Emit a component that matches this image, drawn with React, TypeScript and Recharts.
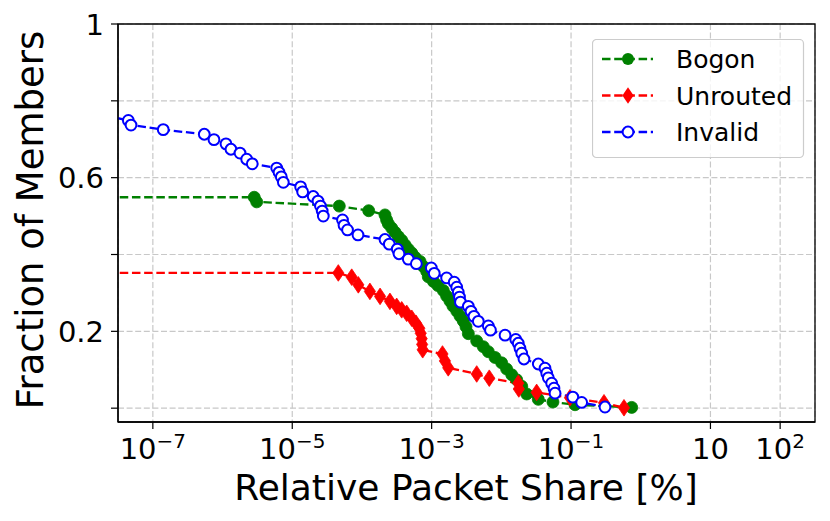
import {
  ComposedChart, Line, XAxis, YAxis, CartesianGrid, ReferenceArea, Legend,
} from 'recharts'

const FONT = 'DejaVu Sans'

// axis limits (log x from 10^-7.5 to 10^2.5)
const X_MIN = 3.1623e-8
const X_MAX = 316.23
const Y_MIN = -0.036
const Y_MAX = 1

const xTicks = [1e-7, 1e-5, 1e-3, 1e-1, 10, 100]
const xTickExp = ['−7', '−5', '−3', '−1', '', '2']
const yTicks = [0, 0.2, 0.4, 0.6, 0.8, 1]
const yTickLabels = ['', '0.2', '', '0.6', '', '1']

const seriesNames = ['Bogon', 'Unrouted', 'Invalid']
const seriesColors = ['#008000', '#ff0000', '#0000ff']

const bogonShare = [
  1e-8, 2.85e-6, 3.09e-6, 4.73e-5, 1.25e-4, 2.14e-4, 2.26e-4, 2.39e-4, 2.67e-4, 2.98e-4,
  3.32e-4, 3.72e-4, 4.15e-4, 4.62e-4, 5.18e-4, 5.77e-4, 6.81e-4, 7.59e-4, 8.49e-4, 8.95e-4,
  1.06e-3, 1.23e-3, 1.47e-3, 1.64e-3, 1.83e-3, 2.02e-3, 2.29e-3, 2.55e-3, 2.84e-3, 3.11e-3,
  3.36e-3, 4.43e-3, 5.51e-3, 6.5e-3, 8.11e-3, 1.01e-2, 1.19e-2, 1.41e-2, 1.66e-2, 1.96e-2,
  2.31e-2, 3.39e-2, 5.5e-2, 0.114, 0.741,
]
const bogonFrac = [
  0.549, 0.549, 0.537, 0.526, 0.514, 0.503, 0.49, 0.48, 0.469, 0.458,
  0.447, 0.437, 0.425, 0.414, 0.404, 0.393, 0.382, 0.369, 0.356, 0.342,
  0.33, 0.319, 0.306, 0.292, 0.279, 0.266, 0.253, 0.24, 0.227, 0.212,
  0.194, 0.175, 0.16, 0.147, 0.132, 0.118, 0.102, 0.087, 0.074, 0.057,
  0.037, 0.023, 0.016, 0.009, 0.002,
]

const unroutedShare = [
  1e-8, 4.58e-5, 7.13e-5, 8.87e-5, 1.3e-4, 1.82e-4, 2.52e-4, 3.15e-4, 3.72e-4, 4.38e-4,
  5.18e-4, 5.96e-4, 6.65e-4, 6.97e-4, 7.19e-4, 7.3e-4, 7.44e-4, 1.43e-3, 1.55e-3, 1.73e-3,
  4.43e-3, 6.71e-3, 1.75e-2, 1.78e-2, 3.21e-2, 9.66e-2, 0.297, 0.575,
]
const unroutedFrac = [
  0.352, 0.352, 0.341, 0.321, 0.304, 0.291, 0.278, 0.265, 0.256, 0.247,
  0.234, 0.221, 0.208, 0.195, 0.181, 0.166, 0.152, 0.141, 0.123, 0.105,
  0.089, 0.078, 0.065, 0.05, 0.041, 0.027, 0.014, 0.001,
]

const invalidShare = [
  2e-8, 4.45e-8, 4.86e-8, 1.41e-7, 5.47e-7, 7.53e-7, 1.12e-6, 1.32e-6, 1.78e-6, 2.22e-6,
  2.67e-6, 5.98e-6, 6.46e-6, 6.97e-6, 7.45e-6, 1.32e-5, 1.41e-5, 2.0e-5, 2.34e-5, 2.54e-5,
  2.69e-5, 2.79e-5, 5.26e-5, 5.53e-5, 6.21e-5, 8.77e-5, 2.14e-4, 2.47e-4, 3.21e-4, 3.4e-4,
  4.62e-4, 6.03e-4, 9.89e-4, 1.09e-3, 1.64e-3, 2.11e-3, 2.29e-3, 2.41e-3, 2.51e-3, 2.59e-3,
  3.36e-3, 3.67e-3, 4.05e-3, 4.67e-3, 6.5e-3, 6.98e-3, 1.13e-2, 1.61e-2, 1.75e-2, 1.85e-2,
  1.96e-2, 2.11e-2, 3.39e-2, 4.23e-2, 4.48e-2, 4.72e-2, 5.27e-2, 5.69e-2, 5.89e-2, 0.106,
  0.142, 0.307,
]
const invalidFrac = [
  0.762, 0.749, 0.737, 0.725, 0.713, 0.699, 0.688, 0.674, 0.664, 0.648,
  0.636, 0.625, 0.614, 0.602, 0.588, 0.576, 0.563, 0.551, 0.539, 0.526,
  0.513, 0.5, 0.49, 0.476, 0.464, 0.451, 0.439, 0.427, 0.414, 0.402,
  0.388, 0.376, 0.365, 0.351, 0.339, 0.328, 0.315, 0.302, 0.289, 0.276,
  0.265, 0.252, 0.239, 0.226, 0.214, 0.203, 0.19, 0.179, 0.169, 0.156,
  0.143, 0.128, 0.115, 0.104, 0.091, 0.079, 0.065, 0.052, 0.039, 0.029,
  0.015, 0.003,
]

const zip = (xs: number[], ys: number[]) => xs.map((x, i) => ({ x, y: ys[i] }))
const bogonData = zip(bogonShare, bogonFrac)
const unroutedData = zip(unroutedShare, unroutedFrac)
const invalidData = zip(invalidShare, invalidFrac)

const DASH = '8.5 3.7'
const LW = 2.3

const circleDot = (color: string) => (p: any) => (
  <circle key={`c${p.index}`} cx={p.cx} cy={p.cy} r={6} fill={color} stroke={color} strokeWidth={0.8} />
)
const hollowDot = (color: string) => (p: any) => (
  <circle key={`h${p.index}`} cx={p.cx} cy={p.cy} r={5.4} fill="#fff" stroke={color} strokeWidth={2} />
)
const diamondDot = (color: string) => (p: any) => (
  <polygon
    key={`d${p.index}`}
    points={`${p.cx},${p.cy - 8.3} ${p.cx + 5.6},${p.cy} ${p.cx},${p.cy + 8.3} ${p.cx - 5.6},${p.cy}`}
    fill={color}
    stroke={color}
    strokeWidth={0.8}
  />
)

function XTick({ x, y, payload }: any) {
  const exp = xTickExp[xTicks.indexOf(payload.value)]
  return (
    <text x={x} y={y + 30} textAnchor="middle" fontFamily={FONT} fontSize={29} fill="#000">
      10
      {exp ? <tspan fontSize={20} dy={-11}>{exp}</tspan> : null}
    </text>
  )
}

function YTick({ x, y, payload }: any) {
  const label = yTickLabels[yTicks.indexOf(payload.value)]
  if (!label) return null
  return (
    <text x={x} y={y} dy={10.5} textAnchor="end" fontFamily={FONT} fontSize={29} fill="#000">
      {label}
    </text>
  )
}

function XTitle({ viewBox }: any) {
  return (
    <text x={viewBox.x + viewBox.width / 2 - 0.5} y={viewBox.y + 78} textAnchor="middle"
      fontFamily={FONT} fontSize={36} fill="#000">
      Relative Packet Share [%]
    </text>
  )
}

function YTitle() {
  return (
    <text x={43} y={220} transform="rotate(-90, 43, 220)" textAnchor="middle"
      fontFamily={FONT} fontSize={37} fill="#000">
      Fraction of Members
    </text>
  )
}

function LegendBox() {
  const rows = [20, 56.5, 93]
  return (
    <svg width={213} height={120} style={{ display: 'block' }}>
      <rect x={0.5} y={0.5} width={211} height={118} rx={4} fill="#fff" fillOpacity={0.8} stroke="#cccccc" strokeWidth={1.2} />
      {seriesNames.map((name, i) => {
        const cy = rows[i]
        const c = seriesColors[i]
        return (
          <g key={name}>
            <line x1={10} x2={61} y1={cy} y2={cy} stroke={c} strokeWidth={LW} strokeDasharray={DASH} />
            {i === 0 && <circle cx={36} cy={cy} r={6} fill={c} />}
            {i === 1 && (
              <polygon points={`36,${cy - 8.3} 41.6,${cy} 36,${cy + 8.3} 30.4,${cy}`} fill={c} />
            )}
            {i === 2 && <circle cx={36} cy={cy} r={5.4} fill="#fff" stroke={c} strokeWidth={2} />}
            <text x={84} y={cy} dy={9} fontFamily={FONT} fontSize={25} fill="#000">{name}</text>
          </g>
        )
      })}
    </svg>
  )
}

export default function App() {
  return (
    <div style={{ position: 'absolute', left: 0, top: 0, width: 830, height: 521, background: '#fff' }}>
      <ComposedChart width={830} height={521} margin={{ top: 24, right: 15, left: 0, bottom: 0 }}>
        <CartesianGrid stroke="#c8c8c8" strokeWidth={1.2} strokeDasharray="6 2.6" />
        <XAxis
          dataKey="x"
          type="number"
          scale="log"
          domain={[X_MIN, X_MAX]}
          allowDataOverflow
          ticks={xTicks}
          tick={<XTick />}
          tickSize={7}
          tickMargin={0}
          height={99}
          stroke="#000"
          tickLine={{ stroke: '#000', strokeWidth: 1.2 }}
          axisLine={{ stroke: '#000', strokeWidth: 1.3 }}
          label={<XTitle />}
        />
        <YAxis
          dataKey="y"
          type="number"
          domain={[Y_MIN, Y_MAX]}
          allowDataOverflow
          ticks={yTicks}
          tick={<YTick />}
          tickSize={7}
          tickMargin={7}
          width={118}
          stroke="#000"
          tickLine={{ stroke: '#000', strokeWidth: 1.2 }}
          axisLine={{ stroke: '#000', strokeWidth: 1.3 }}
          label={<YTitle />}
        />
        <ReferenceArea x1={X_MIN} x2={X_MAX} y1={Y_MIN} y2={Y_MAX} fill="none" stroke="#000"
          strokeWidth={1.3} ifOverflow="visible" />
        <Line data={bogonData} dataKey="y" name={seriesNames[0]} type="linear" stroke={seriesColors[0]}
          strokeWidth={LW} strokeDasharray={DASH} dot={circleDot(seriesColors[0])} activeDot={false}
          isAnimationActive={false} />
        <Line data={unroutedData} dataKey="y" name={seriesNames[1]} type="linear" stroke={seriesColors[1]}
          strokeWidth={LW} strokeDasharray={DASH} dot={diamondDot(seriesColors[1])} activeDot={false}
          isAnimationActive={false} />
        <Line data={invalidData} dataKey="y" name={seriesNames[2]} type="linear" stroke={seriesColors[2]}
          strokeWidth={LW} strokeDasharray={DASH} dot={hollowDot(seriesColors[2])} activeDot={false}
          isAnimationActive={false} />
        <Legend
          layout="vertical"
          align="center"
          verticalAlign="middle"
          content={() => <LegendBox />}
          wrapperStyle={{ left: 592, top: 39, width: 213, height: 120 }}
        />
      </ComposedChart>
    </div>
  )
}
